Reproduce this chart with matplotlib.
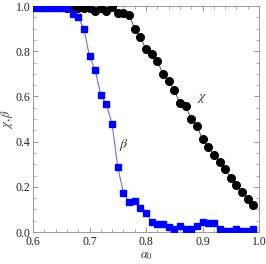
import matplotlib
matplotlib.use("Agg")
import matplotlib.pyplot as plt
import numpy as np
from matplotlib.ticker import MultipleLocator

plt.rcParams['font.family'] = ['Liberation Serif', 'DejaVu Serif']
plt.rcParams['mathtext.fontset'] = 'stix'

alpha0 = [0.60, 0.61, 0.62, 0.63, 0.64, 0.65, 0.66, 0.67, 0.68, 0.69,
          0.70, 0.71, 0.72, 0.73, 0.74, 0.75, 0.76, 0.77, 0.78, 0.79,
          0.80, 0.81, 0.82, 0.83, 0.84, 0.85, 0.86, 0.87, 0.88, 0.89,
          0.90, 0.91, 0.92, 0.93, 0.94, 0.95, 0.96, 0.97, 0.98, 0.99]

chi = [1.0, 1.0, 1.0, 1.0, 1.0, 1.0, 0.99, 0.99, 0.99, 0.99,
       0.99, 0.98, 0.99, 0.98, 0.995, 0.97, 0.97, 0.96, 0.90, 0.861,
       0.808, 0.79, 0.758, 0.699, 0.67, 0.628, 0.57, 0.558, 0.499, 0.469,
       0.41, 0.376, 0.342, 0.31, 0.277, 0.239, 0.209, 0.177, 0.147, 0.118]

beta = [0.99, 0.99, 0.99, 0.99, 0.99, 0.99, 0.99, 0.965, 0.95, 0.90,
        0.777, 0.717, 0.605, 0.565, 0.477, 0.286, 0.174, 0.134, 0.136, 0.106,
        0.084, 0.045, 0.037, 0.037, 0.022, 0.013, 0.025, 0.015, 0.015, 0.025,
        0.046, 0.038, 0.038, 0.015, 0.003, 0.003, 0.015, 0.003, 0.003, 0.015]

fig = plt.figure(figsize=(2.66, 2.64), dpi=100)
ax = fig.add_axes([0.124, 0.121, 0.85, 0.856])

ax.plot(alpha0, chi, '-', color='#555555', lw=0.7, zorder=2)
ax.plot(alpha0, chi, 'o', color='black', ms=5.5, zorder=3)
ax.plot(alpha0, beta, '-', color='#6a6aff', lw=0.8, zorder=4)
ax.plot(alpha0, beta, 's', color='#0000ff', ms=4.2, zorder=5)

ax.text(0.899, 0.59, r'$\chi$', fontsize=10, color='#333333', ha='center', va='center')
ax.text(0.761, 0.385, r'$\beta$', fontsize=10, color='#333333', ha='center', va='center')

ax.set_xlim(0.6, 1.0)
ax.set_ylim(0.0, 1.0)
ax.xaxis.set_major_locator(MultipleLocator(0.1))
ax.xaxis.set_minor_locator(MultipleLocator(0.02))
ax.yaxis.set_major_locator(MultipleLocator(0.2))
ax.yaxis.set_minor_locator(MultipleLocator(0.05))
ax.xaxis.set_major_formatter(plt.FuncFormatter(lambda v, p: '%.1f' % v))
ax.yaxis.set_major_formatter(plt.FuncFormatter(lambda v, p: '%.1f' % v))

ax.tick_params(which='both', direction='in', top=True, right=True,
               colors='#888888', labelcolor='#222222', labelsize=8.5)
ax.tick_params(axis='x', pad=3)
ax.tick_params(axis='y', pad=2)
ax.tick_params(which='major', length=3.5, width=0.6)
ax.tick_params(which='minor', length=2, width=0.5)
for s in ax.spines.values():
    s.set_color('#999999')
    s.set_linewidth(0.7)

ax.set_xlabel(r'$\alpha_0$', fontsize=9, color='#333333', labelpad=1)
ax.set_ylabel(r'$\chi,\beta$', fontsize=9, color='#333333', labelpad=0)

fig.savefig('out.png', dpi=100)
